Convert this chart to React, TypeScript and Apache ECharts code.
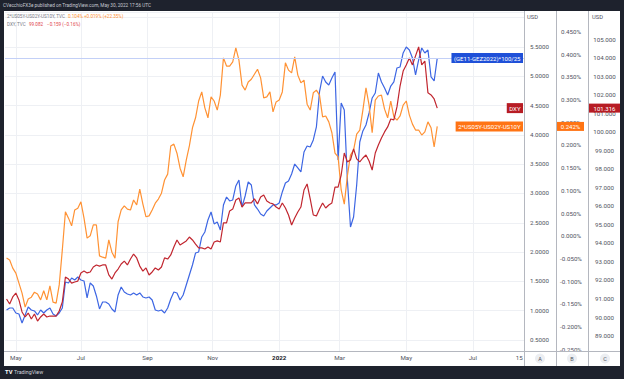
import React, { useEffect, useRef } from "react";
import * as echarts from "echarts";

// ---------- DATA ----------
const START_DATE = "2021-04-22";
const HOLIDAYS = ["2021-05-31", "2021-07-05", "2021-09-06", "2021-11-25", "2021-12-24", "2022-01-17", "2022-02-21", "2022-04-15", "2022-06-20", "2022-07-04"];
const AXIS_BARS = 336;
const SAMPLE_START = 1;
const SAMPLE_STEP = 2;

const tickDates = ["2021-05-03", "2021-07-01", "2021-09-01", "2021-11-01", "2022-01-03", "2022-03-01", "2022-05-02", "2022-07-01", "2022-08-15"];
const tickTexts = ["May", "Jul", "Sep", "Nov", "2022", "Mar", "May", "Jul", "15"];
const gridDates = ["2021-05-03", "2021-07-01", "2021-09-01", "2021-11-01", "2022-01-03", "2022-03-01", "2022-05-02", "2022-07-01"];

// (GE11-GEZ2022)*100/25  -> scale A
const blueValues = [
  1.012, 1.046, 1.046, 0.961, 0.944, 0.790, 0.927, 1.063, 1.012, 0.995,
  0.927, 1.012, 0.961, 1.012, 1.046, 0.944, 0.910, 0.961, 1.046, 1.490,
  1.473, 1.558, 1.524, 1.575, 1.524, 1.507, 1.217, 1.473, 1.422, 1.251,
  1.029, 1.148, 1.148, 1.114, 1.029, 0.978, 1.268, 1.404, 1.319, 1.285,
  1.268, 1.302, 1.268, 1.302, 1.234, 1.217, 1.234, 1.183, 1.012, 0.995,
  1.012, 0.961, 1.046, 1.200, 1.319, 1.302, 1.183, 1.268, 1.439, 1.609,
  1.780, 1.985, 2.002, 2.258, 2.343, 2.548, 2.684, 2.480, 2.514, 2.377,
  2.804, 2.940, 2.872, 2.889, 3.128, 3.230, 2.770, 2.957, 3.196, 3.145,
  2.804, 2.735, 2.650, 2.616, 2.701, 2.753, 2.804, 2.804, 2.838, 3.026,
  3.179, 3.213, 3.333, 3.503, 3.435, 3.367, 3.708, 3.811, 3.794, 3.913,
  4.135, 4.732, 5.005, 4.903, 4.852, 4.971, 5.073, 3.572, 4.544, 4.425,
  3.230, 2.428, 2.599, 3.145, 3.879, 4.067, 4.169, 4.374, 4.630, 4.715,
  5.056, 4.903, 4.800, 4.681, 4.834, 4.903, 5.142, 5.159, 5.398, 5.500,
  5.449, 5.312, 5.022, 5.278, 5.483, 5.398, 5.449, 4.988, 4.920, 5.310,
];

// 2*US05Y-US02Y-US10Y (%) -> scale B
const curveValues = [
  -0.048, -0.052, -0.070, -0.081, -0.103, -0.125, -0.156, -0.138, -0.134, -0.123,
  -0.127, -0.140, -0.120, -0.140, -0.109, -0.145, -0.147, -0.107, -0.030, 0.054,
  0.040, 0.023, 0.058, 0.062, 0.076, 0.040, -0.004, 0.001, 0.025, 0.025,
  -0.043, -0.046, -0.048, -0.008, -0.035, -0.048, 0.032, 0.058, 0.067, 0.060,
  0.058, 0.080, 0.069, 0.104, 0.071, 0.043, 0.045, 0.058, 0.073, 0.082,
  0.095, 0.124, 0.137, 0.199, 0.203, 0.183, 0.150, 0.131, 0.168, 0.199,
  0.239, 0.261, 0.298, 0.318, 0.283, 0.261, 0.307, 0.298, 0.278, 0.311,
  0.393, 0.375, 0.375, 0.384, 0.415, 0.388, 0.333, 0.322, 0.340, 0.346,
  0.357, 0.368, 0.349, 0.305, 0.307, 0.318, 0.274, 0.296, 0.300, 0.318,
  0.382, 0.366, 0.360, 0.395, 0.355, 0.338, 0.344, 0.291, 0.278, 0.316,
  0.322, 0.311, 0.263, 0.265, 0.252, 0.228, 0.183, 0.175, 0.102, 0.071,
  0.133, 0.179, 0.190, 0.225, 0.234, 0.278, 0.327, 0.289, 0.228, 0.300,
  0.309, 0.311, 0.280, 0.261, 0.298, 0.263, 0.256, 0.265, 0.289, 0.298,
  0.267, 0.247, 0.234, 0.234, 0.223, 0.230, 0.252, 0.239, 0.197, 0.242,
];

// DXY -> scale C
const dxyValues = [
  91.00, 90.73, 91.11, 91.32, 90.95, 90.30, 90.03, 90.24, 89.92, 90.19,
  89.81, 90.03, 90.19, 90.03, 90.08, 90.08, 90.08, 90.35, 90.84, 92.19,
  92.08, 91.86, 91.92, 91.97, 92.41, 92.51, 92.41, 92.46, 92.73, 92.84,
  92.78, 92.84, 92.84, 92.30, 92.08, 92.41, 92.62, 92.89, 93.05, 92.84,
  93.16, 93.43, 93.22, 92.78, 92.51, 92.68, 92.30, 92.46, 92.68, 92.57,
  92.73, 93.22, 93.16, 93.38, 93.81, 94.19, 93.92, 94.03, 94.14, 94.35,
  94.19, 93.97, 93.76, 93.76, 93.70, 93.81, 93.70, 94.08, 94.14, 94.08,
  95.11, 95.11, 95.76, 95.86, 96.35, 96.46, 95.97, 96.19, 96.19, 96.19,
  96.41, 96.14, 96.51, 96.62, 96.30, 96.19, 96.14, 95.97, 95.86, 96.19,
  95.92, 95.54, 95.00, 95.38, 95.70, 95.97, 96.89, 97.22, 96.41, 95.54,
  95.49, 95.86, 96.19, 95.92, 96.08, 96.19, 97.05, 97.05, 97.70, 98.89,
  98.41, 98.51, 99.11, 98.57, 98.41, 98.62, 98.78, 98.46, 97.97, 98.89,
  99.32, 99.70, 100.03, 100.30, 100.73, 100.68, 101.38, 102.51, 103.32, 103.65,
  104.03, 103.65, 104.14, 104.62, 103.65, 103.86, 102.14, 102.03, 101.81, 101.316,
];

const blueName = "(GE11-GEZ2022)*100/25";
const curveName = "2*US05Y-US02Y-US10Y";
const dxyName = "DXY";

// ---------- STYLE ----------
const FONT = "Roboto, 'Noto Sans', sans-serif";
const BLUE_LINE = "#3d66e3";
const BLUE_TAG = "#1f50d8";
const ORANGE_LINE = "#ff9234";
const ORANGE_TAG = "#ff7414";
const RED_LINE = "#c1262f";
const RED_TAG = "#b71c24";
const AXIS_TEXT = "#50535e";
const GRID = "#eef0f4";
const SEP = "#b4b7bf";

function tradingDays(start: string, count: number, holidays: string[]) {
  const out: string[] = [];
  const d = new Date(start + "T00:00:00Z");
  while (out.length < count) {
    const dow = d.getUTCDay();
    const s = d.toISOString().slice(0, 10);
    if (dow !== 0 && dow !== 6 && !holidays.includes(s)) out.push(s);
    d.setUTCDate(d.getUTCDate() + 1);
  }
  return out;
}

const dates = tradingDays(START_DATE, AXIS_BARS, HOLIDAYS);
const pairs = (vals: number[]) => vals.map((v, k) => [dates[SAMPLE_START + SAMPLE_STEP * k], v]);
const tickMap: Record<string, string> = {};
tickDates.forEach((d, i) => (tickMap[d] = tickTexts[i]));
const gridSet = new Set(gridDates);

const isMult = (v: number, step: number) => Math.abs(v / step - Math.round(v / step)) < 1e-6;

function buildOption(): any {
  return {
    animation: false,
    backgroundColor: "transparent",
    textStyle: { fontFamily: FONT },
    grid: { left: 5, right: 100, top: 12, bottom: 28, containLabel: false },
    xAxis: {
      type: "category",
      data: dates,
      boundaryGap: false,
      axisLine: { show: false },
      axisTick: { show: false },
      axisLabel: {
        interval: (_i: number, v: string) => v in tickMap,
        formatter: (v: string) => (tickMap[v] === "2022" ? "{b|2022}" : tickMap[v] || ""),
        color: AXIS_TEXT,
        fontSize: 6.2,
        fontFamily: FONT,
        margin: 4,
        rich: { b: { fontWeight: "bold", color: "#131722", fontSize: 6.2, fontFamily: FONT } },
      },
      splitLine: {
        show: true,
        interval: (_i: number, v: string) => gridSet.has(v),
        lineStyle: { color: GRID, width: 1 },
      },
    },
    yAxis: [
      {
        type: "value",
        position: "right",
        offset: 0,
        min: 0.312,
        max: 6.097,
        minInterval: 0.5,
        maxInterval: 0.5,
        axisLine: { show: false },
        axisTick: { show: false },
        axisLabel: {
          align: "center",
          margin: 15.5,
          color: AXIS_TEXT,
          fontSize: 6.2,
          fontFamily: FONT,
          formatter: (v: number) => (isMult(v, 0.5) && v < 5.9 ? v.toFixed(4) : ""),
        },
        splitLine: { show: true, lineStyle: { color: GRID, width: 1 } },
      },
      {
        type: "value",
        position: "right",
        offset: 32,
        min: -0.2526,
        max: 0.494,
        minInterval: 0.05,
        maxInterval: 0.05,
        axisLine: { show: false },
        axisTick: { show: false },
        axisLabel: {
          align: "center",
          margin: 15,
          color: AXIS_TEXT,
          fontSize: 6.2,
          fontFamily: FONT,
          formatter: (v: number) => (isMult(v, 0.05) ? v.toFixed(3) + "%" : ""),
        },
        splitLine: { show: false },
      },
      {
        type: "value",
        position: "right",
        offset: 64,
        min: 88.19,
        max: 106.51,
        minInterval: 1,
        maxInterval: 1,
        axisLine: { show: false },
        axisTick: { show: false },
        axisLabel: {
          align: "center",
          margin: 16.5,
          color: AXIS_TEXT,
          fontSize: 6.2,
          fontFamily: FONT,
          formatter: (v: number) => (isMult(v, 1) && v < 105.5 ? v.toFixed(3) : ""),
        },
        splitLine: { show: false },
      },
    ],
    series: [
      {
        name: blueName,
        type: "line",
        yAxisIndex: 0,
        data: pairs(blueValues),
        showSymbol: false,
        symbol: "none",
        lineStyle: { color: BLUE_LINE, width: 1.2 },
        itemStyle: { color: BLUE_LINE },
        emphasis: { disabled: true },
        markLine: {
          silent: true,
          symbol: ["none", "none"],
          label: { show: false },
          lineStyle: { color: "#c3d0f7", width: 1, type: "solid" },
          data: [{ yAxis: blueValues[blueValues.length - 1] }],
        },
      },
      {
        name: curveName,
        type: "line",
        yAxisIndex: 1,
        data: pairs(curveValues),
        showSymbol: false,
        symbol: "none",
        lineStyle: { color: ORANGE_LINE, width: 1.2 },
        itemStyle: { color: ORANGE_LINE },
        emphasis: { disabled: true },
      },
      {
        name: dxyName,
        type: "line",
        yAxisIndex: 2,
        data: pairs(dxyValues),
        showSymbol: false,
        symbol: "none",
        lineStyle: { color: RED_LINE, width: 1.2 },
        itemStyle: { color: RED_LINE },
        emphasis: { disabled: true },
      },
    ],
  };
}

const txt = (x: number, y: number, text: string, o: any = {}) => ({
  type: "text",
  x,
  y,
  silent: true,
  z: o.z ?? 20,
  style: {
    text,
    fill: o.fill || AXIS_TEXT,
    fontSize: o.fontSize || 6.2,
    fontFamily: FONT,
    fontWeight: o.fontWeight || "normal",
    align: o.align || "left",
    verticalAlign: "middle",
    backgroundColor: o.bg,
    padding: o.padding,
  },
});
const ln = (x1: number, y1: number, x2: number, y2: number, color = SEP) => ({
  type: "line",
  silent: true,
  z: 15,
  shape: { x1, y1, x2, y2 },
  style: { stroke: color, lineWidth: 1 },
});

export default function App() {
  const ref = useRef<HTMLDivElement>(null);
  useEffect(() => {
    if (!ref.current) return;
    const chart = echarts.init(ref.current, null, { renderer: "svg" });
    chart.setOption(buildOption());

    const lastBlue = blueValues[blueValues.length - 1];
    const lastCurve = curveValues[curveValues.length - 1];
    const lastDxy = dxyValues[dxyValues.length - 1];
    const yBlue = chart.convertToPixel({ yAxisIndex: 0 } as any, lastBlue) as number;
    const yCurve = chart.convertToPixel({ yAxisIndex: 1 } as any, lastCurve) as number;
    const yDxy = chart.convertToPixel({ yAxisIndex: 2 } as any, lastDxy) as number;

    const elements: any[] = [
      // top banner
      txt(3, 5.5, "CVecchioFX3e published on TradingView.com, May 30, 2022 17:56 UTC", { fill: "#c8cbd3", fontSize: 4.7 }),
      // legend header
      txt(7, 16, "2*US05Y-US02Y-US10Y, TVC", { fill: "#787b86", fontSize: 4.6 }),
      txt(68, 16, "0.104%", { fill: ORANGE_LINE, fontSize: 4.6 }),
      txt(84, 16, "+0.019% (+22.35%)", { fill: ORANGE_LINE, fontSize: 4.6 }),
      txt(7, 24, "DXY, TVC", { fill: "#787b86", fontSize: 4.6 }),
      txt(29, 24, "99.082", { fill: "#e0444c", fontSize: 4.6 }),
      txt(47, 24, "\u22120.159 (\u22120.16%)", { fill: "#e0444c", fontSize: 4.6 }),
      // separators
      ln(524.5, 11, 524.5, 366),
      ln(556.5, 11, 556.5, 366),
      ln(588.5, 11, 588.5, 366),
      ln(4, 351.5, 620, 351.5),
      // USD captions
      txt(527, 17, "USD", { fontSize: 5.8 }),
      txt(592, 17, "USD", { fontSize: 5.8 }),
      // scale buttons
      { type: "circle", silent: true, z: 16, shape: { cx: 540, cy: 358.5, r: 5 }, style: { fill: "#eceef2" } },
      { type: "circle", silent: true, z: 16, shape: { cx: 572, cy: 358.5, r: 5 }, style: { fill: "#eceef2" } },
      { type: "circle", silent: true, z: 16, shape: { cx: 605, cy: 358.5, r: 5 }, style: { fill: "#eceef2" } },
      txt(540, 358.5, "A", { align: "center", fontSize: 5.5 }),
      txt(572, 358.5, "B", { align: "center", fontSize: 5.5 }),
      txt(605, 358.5, "C", { align: "center", fontSize: 5.5 }),
      // name tags inside the pane
      txt(523, yBlue, blueName, { fill: "#ffffff", bg: BLUE_TAG, padding: [2, 2.5], align: "right", fontSize: 6 }),
      txt(523, yDxy, dxyName, { fill: "#ffffff", bg: RED_TAG, padding: [2, 2.5], align: "right", fontSize: 6 }),
      txt(523, yCurve, curveName, { fill: "#ffffff", bg: ORANGE_TAG, padding: [2, 2.5], align: "right", fontSize: 6 }),
      // price tags on scales
      { type: "rect", silent: true, z: 18, shape: { x: 557, y: yCurve - 4.5, width: 27, height: 9 }, style: { fill: ORANGE_TAG } },
      txt(570.5, yCurve, lastCurve.toFixed(3) + "%", { fill: "#ffffff", align: "center", z: 19, fontSize: 6 }),
      { type: "rect", silent: true, z: 18, shape: { x: 589, y: yDxy - 4.5, width: 31, height: 9 }, style: { fill: RED_TAG } },
      txt(604.5, yDxy, lastDxy.toFixed(3), { fill: "#ffffff", align: "center", z: 19, fontSize: 6 }),
      // bottom logo
      txt(5, 372, "TV", { fill: "#ffffff", fontWeight: "bold", fontSize: 5.8 }),
      txt(14, 372, "TradingView", { fill: "#d1d4dc", fontSize: 5.3 }),
    ];
    chart.setOption({ graphic: { elements } });
    return () => chart.dispose();
  }, []);

  return (
    <div style={{ position: "fixed", left: 0, top: 0, width: 624, height: 379, background: "#1e222d", overflow: "hidden" }}>
      <div style={{ position: "absolute", left: 4, top: 11, width: 616, height: 355, background: "#ffffff" }} />
      <div ref={ref} style={{ position: "absolute", left: 0, top: 0, width: 624, height: 379 }} />
    </div>
  );
}
